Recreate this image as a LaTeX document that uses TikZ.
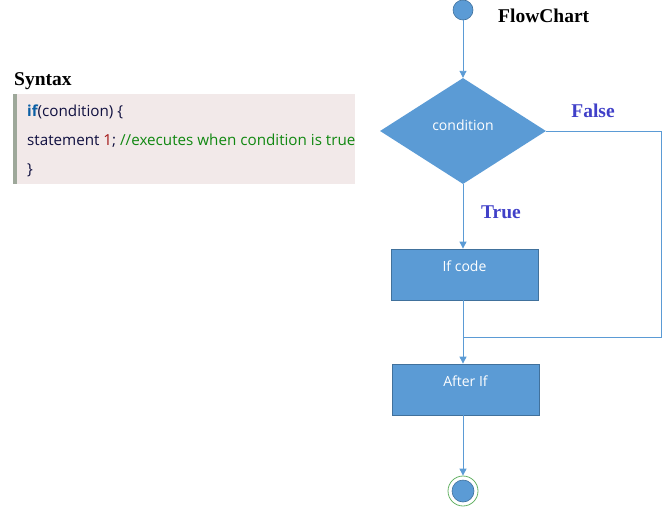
\documentclass[tikz,border=0pt]{standalone}
\usepackage{fontspec}
\setmainfont{Liberation Serif}
\newfontfamily\uifont{Open Sans}
\usetikzlibrary{shapes.geometric,arrows.meta}
\definecolor{boxblue}{HTML}{5B9BD5}
\definecolor{boxedge}{HTML}{41719C}
\definecolor{lblblue}{HTML}{4040C8}
\definecolor{codebg}{HTML}{F2E9E9}
\definecolor{codebar}{HTML}{9EA89A}
\definecolor{kwblue}{HTML}{0B5FA5}
\definecolor{numred}{HTML}{A31515}
\definecolor{cmtgreen}{HTML}{118811}
\definecolor{codetxt}{HTML}{101040}
\tikzset{
  flow/.style={draw=boxblue, line width=0.9pt},
  arr/.style={flow, -{Triangle[width=7pt,length=7pt]}},
  procbox/.style={draw=boxedge, fill=boxblue, line width=0.8pt, minimum width=147pt, minimum height=51pt, inner sep=0pt},
  boxtext/.style={text=white, font=\uifont\fontsize{14}{16}\selectfont},
  lbl/.style={text=lblblue, font=\bfseries\fontsize{19.5}{22}\selectfont},
  ttl/.style={font=\bfseries\fontsize{19.5}{22}\selectfont},
  codeline/.style={anchor=west, font=\uifont\fontsize{15.2}{17}\selectfont, text=codetxt, inner sep=0pt}
}
\begin{document}
\begin{tikzpicture}[x=1pt,y=-1pt]
\useasboundingbox (0,0) rectangle (666,506);
% syntax panel
\node[ttl, anchor=west, inner sep=0pt] (syn) at (14,81) {Syntax};
\fill[codebg] (16,94) rectangle (355,184);
\fill[codebar] (13,94) rectangle (16.5,184);
\node[codeline] (l1) at (27,112) {\textcolor{kwblue}{\bfseries if}(condition) \{};
\node[codeline] (l2) at (27,141) {statement \textcolor{numred}{1}; \textcolor{cmtgreen}{//executes when condition is true}};
\node[codeline] (l3) at (27,170) {\}};
% flowchart
\node[ttl, anchor=west, inner sep=0pt] (fc) at (498,16) {FlowChart};
\node[circle, draw=boxedge, fill=boxblue, minimum size=20pt, inner sep=0pt, line width=0.6pt] (start) at (463,10) {};
\node[diamond, fill=boxblue, minimum width=166pt, minimum height=106pt, inner sep=0pt, aspect=1.57] (cond) at (463,131) {};
\node[boxtext] at (463,125) {condition};
\node[procbox] (ifc) at (464.5,274.5) {};
\node[boxtext] at ([yshift=-18pt]ifc.north) {If code};
\node[procbox] (aft) at (465.5,389.5) {};
\node[boxtext] at ([yshift=-18pt]aft.north) {After If};
\node[circle, draw=green!50!black!60, line width=0.8pt, minimum size=30pt, inner sep=0pt] (endo) at (463,491) {};
\node[circle, draw=boxedge, fill=boxblue, minimum size=22pt, inner sep=0pt, line width=0.6pt] (endi) at (463,491) {};
\coordinate (fr) at (661,131);
\coordinate (fb) at (661,337);
\coordinate (mg) at (463,337);
\draw[arr] (start) -- (cond.north);
\draw[arr] (cond.south) -- (ifc.north -| cond.south);
\draw[arr] (ifc.south -| cond.south) -- (aft.north -| cond.south);
\draw[arr] (aft.south -| cond.south) -- (endo.north);
\draw[flow] (cond.east) -- (fr) -- (fb) -- (mg);
\node[lbl] (lf) at (593,111) {False};
\node[lbl] (lt) at (501,212) {True};
\end{tikzpicture}
\end{document}
